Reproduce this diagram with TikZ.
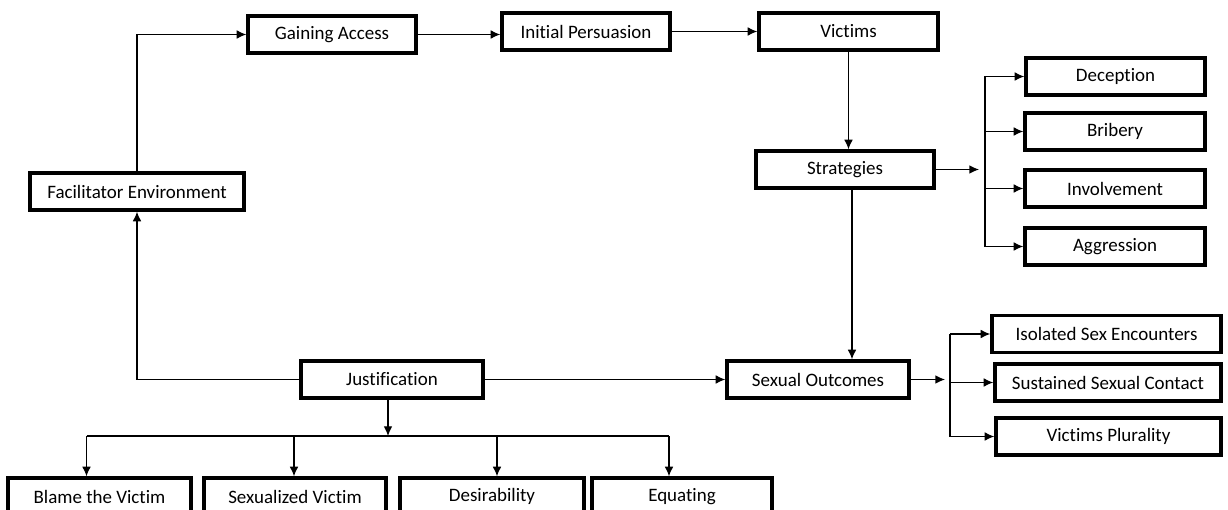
\documentclass[tikz,border=0pt]{standalone}
\usepackage{fontspec}
\setmainfont{Carlito}[Ligatures=NoCommon]
\usetikzlibrary{arrows.meta}
\begin{document}
\begin{tikzpicture}[x=0.02cm, y=-0.02cm, font=\fontsize{10.8}{13}\selectfont, >={Latex[length=5.5pt,width=5pt]},
	blk/.style={draw, line width=1.9pt, minimum height=0.74cm, minimum width={#1*0.02cm}, inner sep=0pt},
	conn/.style={line width=0.75pt}]
	\useasboundingbox (0,0) rectangle (1228,510);
	% top row
	\node[blk=168] (ga) at (332,34.5) {Gaining Access};
	\node[blk=168] (ip) at (586,31.5) {Initial Persuasion};
	\node[blk=179] (vic) at (848.5,31.5) {Victims};
	\node[blk=178] (strat) at (845,169.5) {Strategies};
	\node[blk=214] (fac) at (137,191.5) {Facilitator Environment};
	% strategy branches
	\node[blk=179] (dec) at (1115.5,76.5) {Deception};
	\node[blk=180] (bri) at (1115,131.5) {Bribery};
	\node[blk=180] (inv) at (1115,188.5) {Involvement};
	\node[blk=180] (agg) at (1115,246.5) {Aggression};
	% middle row
	\node[blk=182] (just) at (392,379.5) {Justification};
	\node[blk=182] (sexout) at (818,379.5) {Sexual Outcomes};
	\node[blk=229] (ise) at (1106.5,334) {Isolated Sex Encounters};
	\node[blk=226] (ssc) at (1108,382.5) {Sustained Sexual Contact};
	\node[blk=225] (vp) at (1108.5,436.5) {Victims Plurality};
	% bottom row
	\node[blk=183] (blame) at (99.5,496.5) {Blame the Victim};
	\node[blk=182] (sexv) at (295,496.5) {Sexualized Victim};
	\node[blk=184] (des) at (492,496.5) {Desirability};
	\node[blk=180] (equ) at (682,496.5) {Equating};
	% bus points
	\coordinate (sbus) at (985,169.5);
	\coordinate (stip) at (979,169.5);
	\coordinate (obus) at (950,379.5);
	\coordinate (otip) at (945,379.5);
	\coordinate (jbus) at (388,436);
	% connectors
	\draw[conn,->] (fac.north) |- (ga.west);
	\draw[conn,->] (ga.east) -- (ip.west |- ga.east);
	\draw[conn,->] (ip.east) -- (vic.west);
	\draw[conn,->] (vic.south) -- (vic.south |- strat.north);
	\draw[conn,->] (strat.east) -- (stip);
	\draw[conn] (sbus |- dec) -- (sbus |- agg);
	\foreach \n in {dec,bri,inv,agg} \draw[conn,->] (sbus |- \n) -- (\n.west);
	\draw[conn,->] ([xshift=0.14cm]strat.south) -- ([xshift=0.14cm]strat.south |- sexout.north);
	\draw[conn,->] (just.west) -| (fac.south);
	\draw[conn,->] (just.east) -- (sexout.west);
	\draw[conn,->] (sexout.east) -- (otip);
	\draw[conn] (obus |- ise) -- (obus |- vp);
	\foreach \n in {ise,ssc,vp} \draw[conn,->] (obus |- \n) -- (\n.west);
	\draw[conn,->] (just.south -| jbus) -- (jbus);
	\draw[conn] ([xshift=-0.26cm]blame.north |- jbus) -- ([xshift=-0.26cm]equ.north |- jbus);
	\foreach \n/\dx in {blame/-13,sexv/-1,des/5,equ/-13}
		\draw[conn,->] ([xshift={\dx*0.02cm}]\n.north |- jbus) -- ([xshift={\dx*0.02cm}]\n.north);
\end{tikzpicture}
\end{document}
